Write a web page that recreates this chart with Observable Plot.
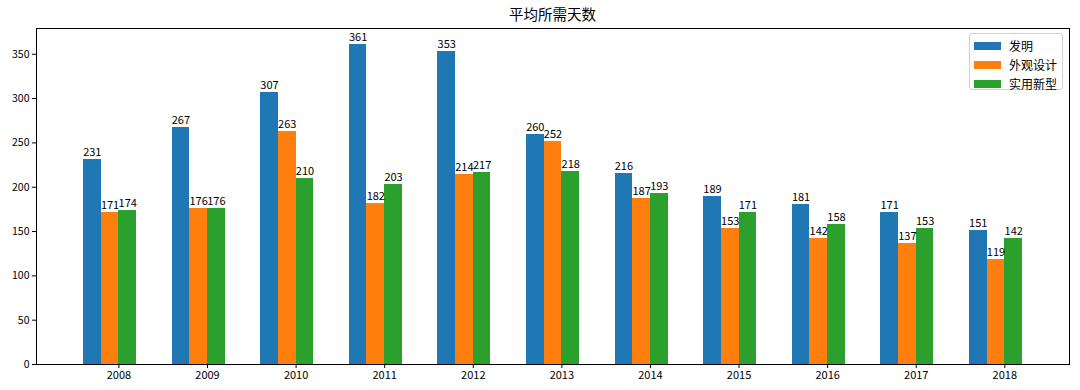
<!DOCTYPE html>
<html>
<head>
<meta charset="utf-8">
<script src="https://cdn.jsdelivr.net/npm/d3@7"></script>
<script src="https://cdn.jsdelivr.net/npm/@observablehq/plot@0.6"></script>
<style>
  html, body { margin: 0; padding: 0; background: #fff; }
  body { width: 1080px; height: 390px; position: relative; overflow: hidden; font-family: "Noto Sans CJK SC", "DejaVu Sans", sans-serif; }
  #title { position: absolute; left: 36px; width: 1033px; top: 5px; text-align: center; font-size: 14.5px; color: #000; line-height: 18px; }
  #chart { position: absolute; left: 0; top: 27px; }
  #legend { position: absolute; left: 969px; top: 33px; width: 94px; height: 57px; border: 1px solid #d0d0d0; border-radius: 3px; background: rgba(255,255,255,0.85); box-sizing: border-box; }
  .item { position: absolute; left: 4px; height: 19px; display: flex; align-items: center; font-size: 12px; color: #000; }
  .sw { width: 27px; height: 8px; margin-right: 8px; }
  #chart rect { shape-rendering: crispEdges; }
</style>
</head>
<body>
<div id="title"></div>
<div id="chart"></div>
<div id="legend"></div>
<script>
const titleText = "平均所需天数";
const years = [2008, 2009, 2010, 2011, 2012, 2013, 2014, 2015, 2016, 2017, 2018];
const seriesNames = ["发明", "外观设计", "实用新型"];
const seriesColors = ["#1f77b4", "#ff7f0e", "#2ca02c"];
const invention = [231, 267, 307, 361, 353, 260, 216, 189, 181, 171, 151];
const design = [171, 176, 263, 182, 214, 252, 187, 153, 142, 137, 119];
const utility = [174, 176, 210, 203, 217, 218, 193, 171, 158, 153, 142];
const yTicks = [0, 50, 100, 150, 200, 250, 300, 350];

const barWidth = 0.2;
const offsets = [-0.4, -0.2, 0];
const seriesValues = [invention, design, utility];

const data = [];
seriesNames.forEach((name, si) => {
  years.forEach((yr, i) => {
    const x1 = yr + offsets[si];
    data.push({ year: yr, series: name, value: seriesValues[si][i], x1, x2: x1 + barWidth, xc: x1 + barWidth / 2 });
  });
});

const xMinData = years[0] + offsets[0];
const xMaxData = years[years.length - 1] + offsets[2] + barWidth;
const xPad = (xMaxData - xMinData) * 0.05;
const yMax = d3.max(data, d => d.value) * 1.05;

document.getElementById("title").textContent = titleText;

const fontFamily = '"Noto Sans CJK SC", "DejaVu Sans", sans-serif';

const chart = Plot.plot({
  width: 1080,
  height: 363,
  marginLeft: 36,
  marginRight: 11,
  marginTop: 1,
  marginBottom: 26,
  style: { fontFamily, background: "white", color: "#000" },
  x: { domain: [xMinData - xPad, xMaxData + xPad] },
  y: { domain: [0, yMax] },
  color: { domain: seriesNames, range: seriesColors },
  marks: [
    Plot.rectY(data, { x1: "x1", x2: "x2", y: "value", fill: "series", inset: 0 }),
    Plot.text(data, { x: "xc", y: "value", text: d => String(d.value), lineAnchor: "middle", dy: -7, fontSize: 11, fill: "#000" }),
    Plot.frame({ stroke: "#000", strokeWidth: 1 }),
    Plot.axisX({ ticks: years, tickFormat: d => String(d), tickSize: 4, tickPadding: 3, fontSize: 11, label: null }),
    Plot.axisY({ ticks: yTicks, tickFormat: d => String(d), tickSize: 4, tickPadding: 3, fontSize: 10.5, label: null })
  ]
});
document.getElementById("chart").appendChild(chart);

const legend = document.getElementById("legend");
seriesNames.forEach((name, i) => {
  const item = document.createElement("div");
  item.className = "item";
  item.style.top = (2 + i * 19) + "px";
  const sw = document.createElement("span");
  sw.className = "sw";
  sw.style.background = seriesColors[i];
  const label = document.createElement("span");
  label.textContent = name;
  item.appendChild(sw);
  item.appendChild(label);
  legend.appendChild(item);
});
</script>
</body>
</html>
